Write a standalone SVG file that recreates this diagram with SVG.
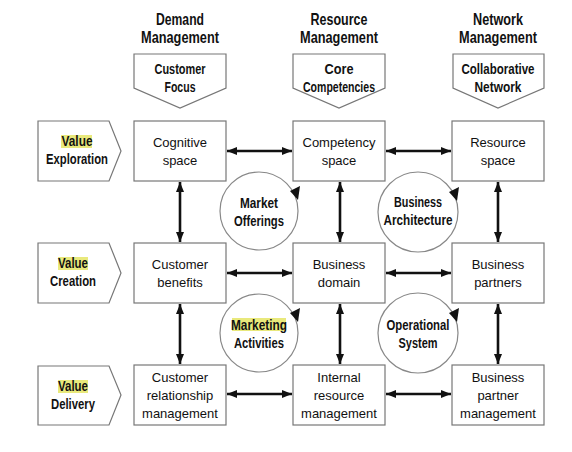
<svg xmlns="http://www.w3.org/2000/svg" width="572" height="452" viewBox="0 0 572 452">
<defs>
<style>
.box{fill:#fff;stroke:#777;stroke-width:1.2}
.circ{fill:#fff;stroke:#888;stroke-width:1.2}
.t{font-family:"Liberation Sans",Arial,sans-serif;font-size:13px;fill:#111;text-anchor:middle}
.b{font-family:"Liberation Sans",Arial,sans-serif;font-weight:bold;font-size:15px;fill:#111;text-anchor:middle}
.h{font-size:16.5px}
.hl{fill:#e9e97c}
.con{stroke:#111;stroke-width:2.6;fill:none;marker-start:url(#ah);marker-end:url(#ah)}
</style>
<marker id="ah" viewBox="0 0 10 10" refX="10" refY="5" markerUnits="userSpaceOnUse" markerWidth="10" markerHeight="10" orient="auto-start-reverse">
<path d="M0,1 L10,5 L0,9 z" fill="#111"/>
</marker>
<polygon id="ca" points="31,-20 41,-25 39,-11" fill="#111"/>
</defs>
<rect width="572" height="452" fill="#fff"/>

<g id="hdr-demand"><text class="b h" x="180" y="25" textLength="48" lengthAdjust="spacingAndGlyphs">Demand</text><text class="b h" x="180" y="43" textLength="78" lengthAdjust="spacingAndGlyphs">Management</text></g>
<g id="hdr-resource"><text class="b h" x="339" y="25" textLength="57" lengthAdjust="spacingAndGlyphs">Resource</text><text class="b h" x="339" y="43" textLength="78" lengthAdjust="spacingAndGlyphs">Management</text></g>
<g id="hdr-network"><text class="b h" x="498" y="25" textLength="50" lengthAdjust="spacingAndGlyphs">Network</text><text class="b h" x="498" y="43" textLength="78" lengthAdjust="spacingAndGlyphs">Management</text></g>

<g id="top-customer-focus"><polygon class="box" points="134,54 226,54 226,88 180,108 134,88"/><text class="b" x="180" y="74" textLength="51" lengthAdjust="spacingAndGlyphs">Customer</text><text class="b" x="180" y="92" textLength="31" lengthAdjust="spacingAndGlyphs">Focus</text></g>
<g id="top-core-competencies"><polygon class="box" points="293,54 385,54 385,88 339,108 293,88"/><text class="b" x="339" y="74" textLength="29" lengthAdjust="spacingAndGlyphs">Core</text><text class="b" x="339" y="92" textLength="72" lengthAdjust="spacingAndGlyphs">Competencies</text></g>
<g id="top-collab-network"><polygon class="box" points="453,54 544,54 544,88 498,108 453,88"/><text class="b" x="498" y="74" textLength="73" lengthAdjust="spacingAndGlyphs">Collaborative</text><text class="b" x="498" y="92" textLength="47" lengthAdjust="spacingAndGlyphs">Network</text></g>

<g id="val-exploration"><polygon class="box" points="38,121 109,121 121,151 109,181 38,181"/><rect class="hl" x="61" y="135" width="31" height="13"/><text class="b" x="77" y="146" textLength="31" lengthAdjust="spacingAndGlyphs">Value</text><text class="b" x="77" y="164" textLength="62" lengthAdjust="spacingAndGlyphs">Exploration</text></g>
<g id="val-creation"><polygon class="box" points="38,243 109,243 121,273 109,303 38,303"/><rect class="hl" x="58" y="257" width="30" height="13"/><text class="b" x="73" y="268" textLength="30" lengthAdjust="spacingAndGlyphs">Value</text><text class="b" x="73" y="286" textLength="46" lengthAdjust="spacingAndGlyphs">Creation</text></g>
<g id="val-delivery"><polygon class="box" points="38,366 109,366 121,395 109,425 38,425"/><rect class="hl" x="58" y="380" width="30" height="13"/><text class="b" x="73" y="391" textLength="30" lengthAdjust="spacingAndGlyphs">Value</text><text class="b" x="73" y="409" textLength="44" lengthAdjust="spacingAndGlyphs">Delivery</text></g>

<g id="connectors">
<line class="con" x1="227" y1="151" x2="292" y2="151"/>
<line class="con" x1="386" y1="151" x2="451" y2="151"/>
<line class="con" x1="227" y1="273" x2="292" y2="273"/>
<line class="con" x1="386" y1="273" x2="451" y2="273"/>
<line class="con" x1="227" y1="394" x2="292" y2="394"/>
<line class="con" x1="386" y1="394" x2="451" y2="394"/>
<line class="con" x1="180" y1="182" x2="180" y2="242"/>
<line class="con" x1="340" y1="182" x2="340" y2="242"/>
<line class="con" x1="498" y1="182" x2="498" y2="242"/>
<line class="con" x1="180" y1="304" x2="180" y2="364"/>
<line class="con" x1="340" y1="304" x2="340" y2="364"/>
<line class="con" x1="498" y1="304" x2="498" y2="364"/>
</g>

<g id="cognitive-space"><rect class="box" x="134" y="121" width="92" height="60"/><text class="t" x="180" y="147">Cognitive</text><text class="t" x="180" y="165">space</text></g>
<g id="competency-space"><rect class="box" x="293" y="121" width="92" height="60"/><text class="t" x="339" y="147">Competency</text><text class="t" x="339" y="165">space</text></g>
<g id="resource-space"><rect class="box" x="452" y="121" width="92" height="60"/><text class="t" x="498" y="147">Resource</text><text class="t" x="498" y="165">space</text></g>

<g id="customer-benefits"><rect class="box" x="134" y="243" width="92" height="60"/><text class="t" x="180" y="269">Customer</text><text class="t" x="180" y="287">benefits</text></g>
<g id="business-domain"><rect class="box" x="293" y="243" width="92" height="60"/><text class="t" x="339" y="269">Business</text><text class="t" x="339" y="287">domain</text></g>
<g id="business-partners"><rect class="box" x="452" y="243" width="92" height="60"/><text class="t" x="498" y="269">Business</text><text class="t" x="498" y="287">partners</text></g>

<g id="crm"><rect class="box" x="134" y="365" width="92" height="60"/><text class="t" x="180" y="382">Customer</text><text class="t" x="180" y="400">relationship</text><text class="t" x="180" y="418">management</text></g>
<g id="irm"><rect class="box" x="293" y="365" width="92" height="60"/><text class="t" x="339" y="382">Internal</text><text class="t" x="339" y="400">resource</text><text class="t" x="339" y="418">management</text></g>
<g id="bpm"><rect class="box" x="452" y="365" width="92" height="60"/><text class="t" x="498" y="382">Business</text><text class="t" x="498" y="400">partner</text><text class="t" x="498" y="418">management</text></g>

<g id="market-offerings"><circle class="circ" cx="259" cy="211" r="39"/><use href="#ca" x="259" y="211"/><text class="b" x="259" y="208" textLength="38" lengthAdjust="spacingAndGlyphs">Market</text><text class="b" x="259" y="226" textLength="50" lengthAdjust="spacingAndGlyphs">Offerings</text></g>
<g id="business-architecture"><circle class="circ" cx="418" cy="212" r="40"/><use href="#ca" x="418" y="212"/><text class="b" x="418" y="207" textLength="48" lengthAdjust="spacingAndGlyphs">Business</text><text class="b" x="418" y="225" textLength="69" lengthAdjust="spacingAndGlyphs">Architecture</text></g>
<g id="marketing-activities"><circle class="circ" cx="259" cy="333" r="39"/><use href="#ca" x="259" y="333"/><rect class="hl" x="232" y="318" width="54" height="13"/><text class="b" x="259" y="330" textLength="56" lengthAdjust="spacingAndGlyphs">Marketing</text><text class="b" x="259" y="348" textLength="50" lengthAdjust="spacingAndGlyphs">Activities</text></g>
<g id="operational-system"><circle class="circ" cx="418" cy="333" r="40"/><use href="#ca" x="418" y="333"/><text class="b" x="418" y="330" textLength="63" lengthAdjust="spacingAndGlyphs">Operational</text><text class="b" x="418" y="348" textLength="39" lengthAdjust="spacingAndGlyphs">System</text></g>
</svg>
